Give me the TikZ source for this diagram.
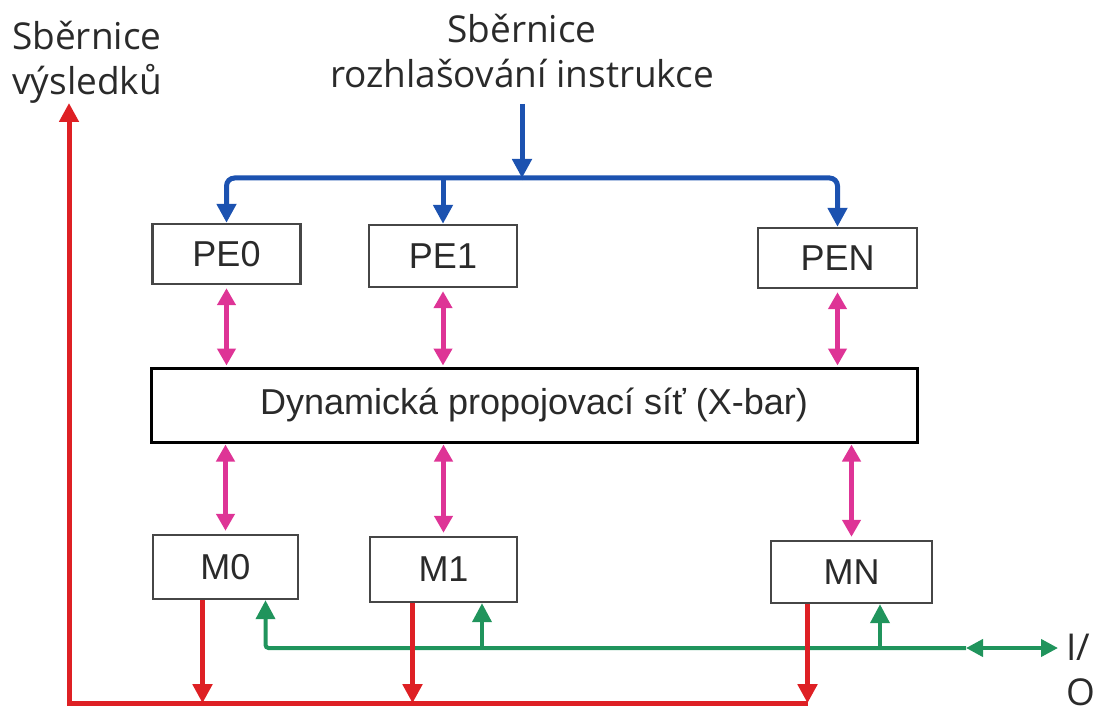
\documentclass[tikz,border=0pt]{standalone}
\usepackage{fontspec}
\setmainfont{Liberation Sans}
\newfontfamily\osans{Open Sans}
\usetikzlibrary{arrows.meta,calc}
\definecolor{busblue}{RGB}{28,82,176}
\definecolor{busred}{RGB}{222,32,36}
\definecolor{busmag}{RGB}{222,52,150}
\definecolor{busgreen}{RGB}{32,148,92}
\definecolor{txtgray}{RGB}{42,42,42}
\definecolor{boxgray}{RGB}{70,70,70}
\tikzset{
  unitbox/.style={draw=boxgray, line width=2.4pt, fill=white, inner sep=0pt,
    font=\fontsize{36}{40}\selectfont, text=txtgray},
  headtxt/.style={inner sep=0pt, font=\osans\fontsize{37}{45}\selectfont, text=txtgray},
  tip/.style={-{Triangle[width=19pt,length=19pt]}},
  dtip/.style={{Triangle[width=18pt,length=17pt]}-{Triangle[width=18pt,length=17pt]}},
  blueline/.style={draw=busblue, line width=5pt},
  redline/.style={draw=busred, line width=5pt},
  magline/.style={draw=busmag, line width=5pt},
  greenline/.style={draw=busgreen, line width=4pt},
}
\begin{document}
\begin{tikzpicture}[x=1pt,y=-1pt]
\useasboundingbox (0,0) rectangle (1099,714);
% nodes
\node[unitbox, minimum width=148pt, minimum height=60pt] (PE0) at (226.5,254) {PE0};
\node[unitbox, minimum width=148pt, minimum height=62pt] (PE1) at (443,256) {PE1};
\node[unitbox, minimum width=159pt, minimum height=60pt] (PEN) at (837.5,258) {PEN};
\node[unitbox, draw=black, line width=3pt, minimum width=766pt, minimum height=74pt] (XB) at (534,405) {Dynamická propojovací síť (X-bar)};
\node[unitbox, minimum width=145pt, minimum height=64pt] (M0) at (225.5,567) {M0};
\node[unitbox, minimum width=147pt, minimum height=65pt] (M1) at (443.5,569.5) {M1};
\node[unitbox, minimum width=161pt, minimum height=62pt] (MN) at (851.5,572) {MN};
\node[headtxt, align=center, anchor=north] (IB) at (522,14) {Sběrnice\\rozhlašování instrukce};
\node[headtxt, align=left, anchor=north west] (RB) at (12,21) {Sběrnice\\výsledků};
\node[headtxt, align=left, anchor=north west] (IO) at (1066,634) {I/\\O};
% coordinates
\coordinate (btop) at (522,104);
\coordinate (bmid) at (522,178);
\coordinate (rtop) at (69,103);
\coordinate (rcorner) at ($(MN.south)+(-44,99)$);
\coordinate (gio) at (966,648);
\coordinate (gend) at (1058,648);
% blue instruction bus
\draw[blueline, tip] (btop) -- (bmid);
\draw[blueline, tip, rounded corners=8pt] (bmid) -| (PE0.north);
\draw[blueline, tip, rounded corners=8pt] (bmid) -| (PEN.north);
\draw[blueline, tip] (PE1.north |- bmid) -- (PE1.north);
% magenta links
\foreach \n in {PE0,PE1,PEN}{
  \draw[magline, dtip, shorten <=3pt, shorten >=1pt] (\n.south) -- (\n.south |- XB.north);
}
\foreach \n in {M0,M1,MN}{
  \draw[magline, dtip, shorten <=1pt, shorten >=3pt] (\n.north |- XB.south) -- (\n.north);
}
% green I/O bus
\draw[greenline, tip, rounded corners=3pt] (gio) -| ([xshift=40pt]M0.south);
\draw[greenline, tip] ([xshift=38.5pt]M1.south |- gio) -- ([xshift=38.5pt]M1.south);
\draw[greenline, tip] ([xshift=28.5pt]MN.south |- gio) -- ([xshift=28.5pt]MN.south);
\draw[greenline, {Triangle[width=17pt,length=17pt]}-{Triangle[width=17pt,length=17pt]}] (gio) -- (gend);
% red result bus
\draw[redline, tip] (rcorner) -| (rtop);
\draw[redline, tip] ([xshift=-23pt]M0.south) -- ([xshift=-23pt]M0.south |- rcorner);
\draw[redline, tip] ([xshift=-31pt]M1.south) -- ([xshift=-31pt]M1.south |- rcorner);
\draw[redline, tip] ([xshift=-44pt]MN.south) -- (rcorner);
\end{tikzpicture}
\end{document}
